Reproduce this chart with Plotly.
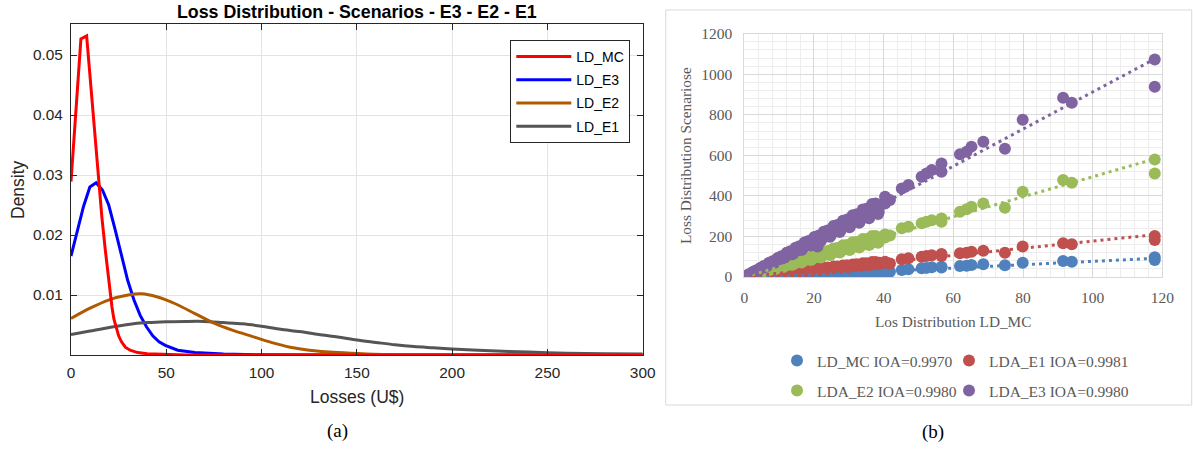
import numpy as np
import plotly.graph_objects as go

W, H = 1193, 452

# ---------------- (a) loss densities ----------------
loss_mc = [0, 5.2, 8.2, 11.2, 14.2, 16.2, 18.0, 19.5, 20.5, 21.5, 22.5, 23.8, 25.0,
           26.5, 28.5, 31.0, 35.0, 40.0, 48.0, 60.0, 300.0]
dens_mc = [0.0289, 0.0527, 0.0532, 0.0415, 0.0298, 0.0230, 0.0175, 0.0130, 0.0105,
           0.0080, 0.0060, 0.0043, 0.0032, 0.0022, 0.0013, 0.0008, 0.0004, 0.0002,
           0.0001, 0.0, 0.0]

loss_e3 = [0, 3.3, 6.6, 9.9, 13.2, 16.5, 19.8, 23.1, 26.4, 29.7, 33.0, 36.3, 39.6,
           42.9, 46.2, 49.5, 56, 65, 80, 100, 150, 300]
dens_e3 = [0.0165, 0.0205, 0.0248, 0.0280, 0.0287, 0.0275, 0.0250, 0.0210, 0.0165,
           0.0125, 0.0092, 0.0066, 0.0047, 0.0032, 0.0022, 0.0016, 0.0008, 0.0004,
           0.00015, 0.00004, 0.0, 0.0]

loss_e2 = [0, 10, 20, 30, 37, 45, 55, 65, 75, 85, 95, 105, 115, 125, 140, 155, 175,
           200, 250, 300]
dens_e2 = [0.0061, 0.0078, 0.0092, 0.0100, 0.0102, 0.0097, 0.0085, 0.0069, 0.0053,
           0.0041, 0.0031, 0.0021, 0.0013, 0.0008, 0.0004, 0.00018, 0.00006, 0.00002,
           0.0, 0.0]

loss_e1 = [0, 10, 20, 30, 40, 50, 60, 70, 80, 90, 100, 110, 120, 130, 140, 150, 160,
           170, 180, 190, 200, 220, 240, 260, 280, 300]
dens_e1 = [0.0034, 0.0040, 0.0046, 0.0051, 0.0054, 0.00555, 0.0056, 0.0056, 0.0054,
           0.0052, 0.0048, 0.0043, 0.0039, 0.0034, 0.0030, 0.0025, 0.0021, 0.0017,
           0.0014, 0.0012, 0.0010, 0.0007, 0.0005, 0.0003, 0.0002, 0.00015]

density_ticks = [0.01, 0.02, 0.03, 0.04, 0.05]
loss_ticks = [0, 50, 100, 150, 200, 250, 300]

# ---------------- (b) scenario losses vs Monte Carlo losses ----------------
ld_mc = [0.3, 0.9, 1.6, 2.4, 3.1, 3.9, 4.6, 5.4, 6.2, 7.0, 7.9, 8.7, 9.6, 10.4, 11.3,
         12.1, 13.0, 13.8, 14.7, 15.6, 16.4, 17.3, 18.2, 19.1, 20.1, 21.0, 21.9, 22.8,
         23.7, 24.6, 25.6, 26.5, 27.4, 28.3, 29.3, 30.2, 31.1, 32.1, 33.0, 34.0, 34.9,
         35.8, 36.7, 37.5, 38.4,
         0.6, 1.25, 2.0, 2.75, 3.5, 4.25, 5.0, 5.8, 6.6, 7.45, 8.3, 9.15, 10.0, 10.85,
         11.7, 12.55, 13.4, 14.25, 15.15, 16.0, 16.85, 17.75, 18.65, 19.6, 20.55, 21.45,
         22.35, 23.25, 24.15, 25.1, 26.05, 26.95, 27.85, 28.8, 29.75, 30.65, 31.6, 32.55,
         33.5, 34.45, 35.35, 36.25, 37.1, 37.95, 38.9,
         0.45, 1.1, 1.8, 2.55, 3.3, 4.1, 4.8, 5.6, 6.4, 7.25, 8.1, 8.95, 9.8, 10.65,
         11.5, 12.35, 13.2, 14.05, 14.9, 15.8, 16.65, 17.5, 18.4, 19.35, 20.3, 21.2,
         22.1, 23.0, 23.9, 24.85, 25.8, 26.7, 27.6, 28.55, 29.5, 30.4, 31.35, 32.3,
         33.25, 34.2, 35.1, 36.0, 36.9, 37.7, 38.6,
         40.4, 40.4, 41.8, 45.2, 47.1, 50.9, 52.3, 53.8, 56.6, 56.6, 61.9, 63.8, 65.2,
         68.6, 74.8, 79.9, 91.5, 94.0, 117.8, 117.8]
lda_mc = [0.1, 0.3, 0.5, 0.8, 0.9, 1.1, 1.5, 1.7, 1.8, 2.5, 2.6, 2.7, 3.6, 3.7, 3.7,
          5.0, 4.9, 4.8, 6.4, 6.2, 6.0, 7.9, 7.7, 7.4, 9.7, 8.5, 8.9, 11.6, 11.1, 10.4,
          13.6, 13.0, 12.3, 15.7, 15.0, 14.1, 18.0, 17.1, 16.1, 20.5, 18.5, 18.2, 23.1,
          21.8, 20.3,
          0.2, 0.4, 0.6, 0.8, 1.0, 1.3, 1.6, 1.8, 2.1, 2.5, 2.8, 3.1, 3.6, 3.8, 4.2, 4.9,
          5.0, 5.6, 6.4, 6.3, 7.0, 7.9, 7.7, 8.6, 9.7, 9.3, 10.3, 11.5, 11.0, 12.2, 13.6,
          13.0, 14.2, 15.6, 15.0, 16.3, 18.0, 17.2, 18.6, 20.4, 19.5, 21.0, 22.6, 21.6,
          23.0,
          0.1, 0.4, 0.5, 0.8, 1.1, 1.2, 1.5, 1.9, 2.0, 2.4, 2.9, 3.0, 3.5, 4.0, 4.0, 4.7,
          5.3, 5.2, 6.0, 6.8, 6.6, 7.6, 8.4, 8.1, 9.3, 10.2, 9.8, 11.0, 12.1, 11.6, 12.9,
          14.1, 13.5, 14.9, 16.2, 15.5, 17.1, 18.5, 17.7, 19.4, 20.9, 20.0, 21.8, 23.3,
          22.3,
          21, 20, 26, 35, 38, 43, 45, 48, 51, 47, 54, 55, 59, 63, 58, 70, 79, 75, 97, 84]
lda_e1 = [0.6, 1.6, 2.6, 4.8, 5.6, 6.2, 9.2, 9.7, 9.9, 14.0, 14.2, 13.9, 19.2, 18.7,
          18.1, 24.2, 23.4, 22.1, 29.4, 28.1, 26.2, 34.6, 32.8, 30.6, 40.2, 37.0, 35.0,
          45.6, 42.7, 39.4, 51.2, 47.7, 43.8, 56.6, 52.7, 48.3, 62.2, 57.8, 52.8, 68.0,
          63.0, 57.3, 73.4, 67.5, 61.4,
          1.1, 2.1, 3.6, 5.2, 6.0, 7.7, 9.5, 9.9, 11.9, 14.2, 14.1, 16.5, 19.0, 18.4,
          21.1, 23.8, 22.8, 25.7, 28.8, 27.2, 30.3, 33.7, 31.7, 35.3, 39.0, 36.5, 40.2,
          44.2, 41.1, 45.2, 49.5, 45.8, 50.1, 54.7, 50.6, 55.2, 60.0, 55.3, 60.3, 65.5,
          60.1, 65.3, 70.5, 64.5, 70.0,
          0.8, 2.1, 3.0, 4.5, 6.4, 6.8, 8.4, 10.9, 10.6, 12.7, 15.8, 14.8, 17.2, 20.8,
          19.0, 21.6, 25.7, 23.2, 26.1, 30.8, 27.5, 30.6, 35.9, 31.9, 35.5, 41.3, 36.5,
          40.3, 46.6, 41.0, 45.2, 52.1, 45.5, 50.0, 57.5, 50.2, 54.9, 63.0, 54.9, 59.9,
          68.4, 59.4, 64.6, 73.5, 63.7,
          75, 70, 67, 87, 92, 100, 103, 107, 113, 104, 117, 120, 125, 130, 120, 150,
          166, 161, 202, 182]
lda_e2 = [2, 4, 7, 13, 15, 17, 25, 27, 27, 39, 39, 38, 53, 51, 50, 67, 64, 61, 81, 77,
          72, 95, 90, 84, 111, 100, 96, 125, 117, 108, 141, 131, 121, 156, 145, 133,
          171, 159, 145, 187, 170, 158, 202, 186, 169,
          3, 6, 10, 14, 16, 21, 26, 27, 33, 39, 39, 46, 52, 50, 58, 65, 62, 71, 79, 74,
          84, 92, 87, 98, 107, 100, 112, 121, 112, 126, 135, 125, 139, 150, 138, 153,
          164, 151, 168, 179, 164, 181, 193, 176, 194,
          2, 6, 8, 12, 18, 18, 23, 30, 29, 35, 43, 40, 47, 57, 52, 59, 71, 63, 72, 85,
          75, 84, 98, 87, 97, 113, 99, 110, 128, 112, 124, 143, 124, 137, 158, 137, 150,
          173, 150, 164, 188, 162, 177, 202, 174,
          210, 195, 205, 240, 248, 265, 272, 280, 289, 273, 322, 334, 347, 363, 342,
          420, 478, 465, 580, 511]
lda_e3 = [3, 8, 13, 24, 28, 32, 45, 48, 50, 69, 70, 70, 94, 93, 92, 119, 116, 112, 144,
          139, 133, 170, 162, 155, 197, 150, 177, 223, 211, 199, 251, 236, 222, 277,
          261, 245, 305, 286, 267, 333, 300, 290, 360, 334, 311,
          6, 11, 18, 26, 30, 38, 47, 49, 59, 70, 71, 82, 94, 92, 105, 118, 114, 128,
          142, 136, 152, 167, 159, 176, 193, 182, 201, 219, 205, 226, 245, 229, 251,
          271, 253, 276, 297, 277, 302, 324, 300, 326, 349, 323, 350,
          4, 11, 15, 22, 32, 34, 42, 54, 53, 63, 78, 74, 85, 102, 95, 107, 127, 117, 130,
          152, 138, 152, 177, 161, 177, 204, 183, 200, 229, 206, 224, 256, 229, 248, 283,
          252, 273, 310, 276, 298, 337, 299, 321, 362, 320,
          396, 363, 380, 437, 454, 495, 511, 528, 560, 519, 605, 618, 643, 667, 633,
          776, 884, 859, 1073, 938]

series_b = [
    ("LD_MC IOA=0.9970", lda_mc, "#4F81BD", "legend2", 777, 361),
    ("LDA_E1 IOA=0.9981", lda_e1, "#C0504D", "legend3", 949, 361),
    ("LDA_E2 IOA=0.9980", lda_e2, "#9BBB59", "legend4", 777, 391),
    ("LDA_E3 IOA=0.9980", lda_e3, "#8064A2", "legend5", 949, 391),
]


def px_x(p):
    return p / W


def px_y(p):
    return 1 - p / H


fig = go.Figure()

# density curves (blue underneath, red on top), legend order by rank
curves = [
    ("LD_E3", loss_e3, dens_e3, "#0000FF", 2, "linear"),
    ("LD_E1", loss_e1, dens_e1, "#555555", 4, "spline"),
    ("LD_E2", loss_e2, dens_e2, "#B05A00", 3, "spline"),
    ("LD_MC", loss_mc, dens_mc, "#FF0000", 1, "linear"),
]
for name, xs, ys, col, rank, shape in curves:
    fig.add_trace(go.Scatter(
        x=xs, y=ys, mode="lines", name=name, legendrank=rank, legendgroup=name,
        line=dict(color=col, width=3, shape=shape,
                  smoothing=0.8 if shape == "spline" else None),
        xaxis="x", yaxis="y", legend="legend", hoverinfo="skip"))

# scatter series
for name, ys, col, leg, _, _ in series_b:
    fig.add_trace(go.Scatter(
        x=ld_mc, y=ys, mode="markers", name=name, legend=leg,
        marker=dict(color=col, size=12, line=dict(width=0)),
        xaxis="x2", yaxis="y2", hoverinfo="skip"))

# linear trend lines (least squares), drawn above the markers
x_arr = np.asarray(ld_mc, dtype=float)
x_span = np.array([x_arr.min(), x_arr.max()])
for name, ys, col, leg, _, _ in series_b:
    slope, icept = np.polyfit(x_arr, np.asarray(ys, dtype=float), 1)
    fig.add_trace(go.Scatter(
        x=x_span, y=slope * x_span + icept, mode="lines", showlegend=False,
        line=dict(color=col, width=3, dash="3px,4px"),
        xaxis="x2", yaxis="y2", hoverinfo="skip"))

sans = "Liberation Sans, Arial"
serif = "Liberation Serif, Times New Roman, serif"
ax_font_a = dict(family=sans, size=15.4, color="#262626")
ax_font_b = dict(family=serif, size=15.5, color="#595959")

layout_legends = {}
for name, ys, col, leg, lx, ly in series_b:
    layout_legends[leg] = dict(x=px_x(lx), y=px_y(ly), xanchor="left", yanchor="middle",
                               orientation="h", bgcolor="rgba(0,0,0,0)",
                               font=dict(family=serif, size=15.5, color="#595959"),
                               itemwidth=30)

fig.update_layout(
    width=W, height=H,
    margin=dict(l=0, r=0, t=0, b=0, autoexpand=False),
    paper_bgcolor="white", plot_bgcolor="white",
    xaxis=dict(domain=[px_x(71), px_x(642.7)], range=[0, 300], tickvals=loss_ticks,
               ticks="inside", ticklen=6, tickcolor="#262626", showline=True,
               linecolor="#262626", linewidth=1, mirror="allticks", showgrid=True,
               gridcolor="#e3e3e3", zeroline=False, tickfont=ax_font_a,
               ticklabelstandoff=4, anchor="y"),
    yaxis=dict(domain=[px_y(355), px_y(24)], range=[0, 0.05517], tickvals=density_ticks,
               ticktext=[f"{v:.2f}" for v in density_ticks],
               ticks="inside", ticklen=6, tickcolor="#262626", showline=True,
               linecolor="#262626", linewidth=1, mirror="allticks", showgrid=True,
               gridcolor="#e3e3e3", zeroline=False, tickfont=ax_font_a,
               ticklabelstandoff=4, anchor="x"),
    xaxis2=dict(domain=[px_x(744.3), px_x(1162.4)], range=[0, 120], dtick=20, tick0=0,
                showgrid=True, gridcolor="#d9d9d9", gridwidth=1,
                minor=dict(dtick=4, showgrid=True, gridcolor="#ededed"),
                showline=True, linecolor="#d9d9d9", mirror=True, zeroline=False,
                ticks="", tickfont=ax_font_b, ticklabelstandoff=6, anchor="y2"),
    yaxis2=dict(domain=[px_y(277), px_y(33.7)], range=[0, 1200], dtick=200, tick0=0,
                showgrid=True, gridcolor="#d9d9d9", gridwidth=1,
                minor=dict(dtick=40, showgrid=True, gridcolor="#ededed"),
                showline=True, linecolor="#d9d9d9", mirror=True, zeroline=False,
                ticks="", tickfont=ax_font_b, ticklabelstandoff=8, anchor="x2"),
    legend=dict(x=px_x(510.3), y=px_y(40), xanchor="left", yanchor="top",
                bgcolor="white", bordercolor="#262626", borderwidth=1,
                font=dict(family=sans, size=14, color="#000000"),
                itemwidth=55, tracegroupgap=2),
    showlegend=True,
    **layout_legends,
)

# chart-area frame around panel (b)
fig.add_shape(type="rect", xref="paper", yref="paper",
              x0=px_x(665.7), x1=px_x(1191.7), y0=px_y(405), y1=px_y(10),
              line=dict(color="#d9d9d9", width=1), fillcolor="rgba(0,0,0,0)",
              layer="below")


def label(text, x, y, size, family, color, bold=False, angle=0):
    fig.add_annotation(text=f"<b>{text}</b>" if bold else text, x=px_x(x), y=px_y(y),
                       xref="paper", yref="paper", xanchor="center", yanchor="middle",
                       showarrow=False, textangle=angle,
                       font=dict(size=size, family=family, color=color))


label("Loss Distribution - Scenarios - E3 - E2 - E1", 356.5, 12, 17.8, sans, "#000000",
      bold=True)
label("Losses (U$)", 356.7, 397, 17.5, sans, "#262626")
label("Density", 18, 190, 17.5, sans, "#262626", angle=-90)
label("(a)", 337.5, 431, 19, serif, "#000000")

label("Los Distribution LD_MC", 953, 321.5, 15.3, serif, "#595959")
label("Loss Distribution Scenariose", 685, 156, 15.3, serif, "#595959", angle=-90)
label("(b)", 933.3, 431.5, 19, serif, "#000000")

fig.write_html("out.html")
